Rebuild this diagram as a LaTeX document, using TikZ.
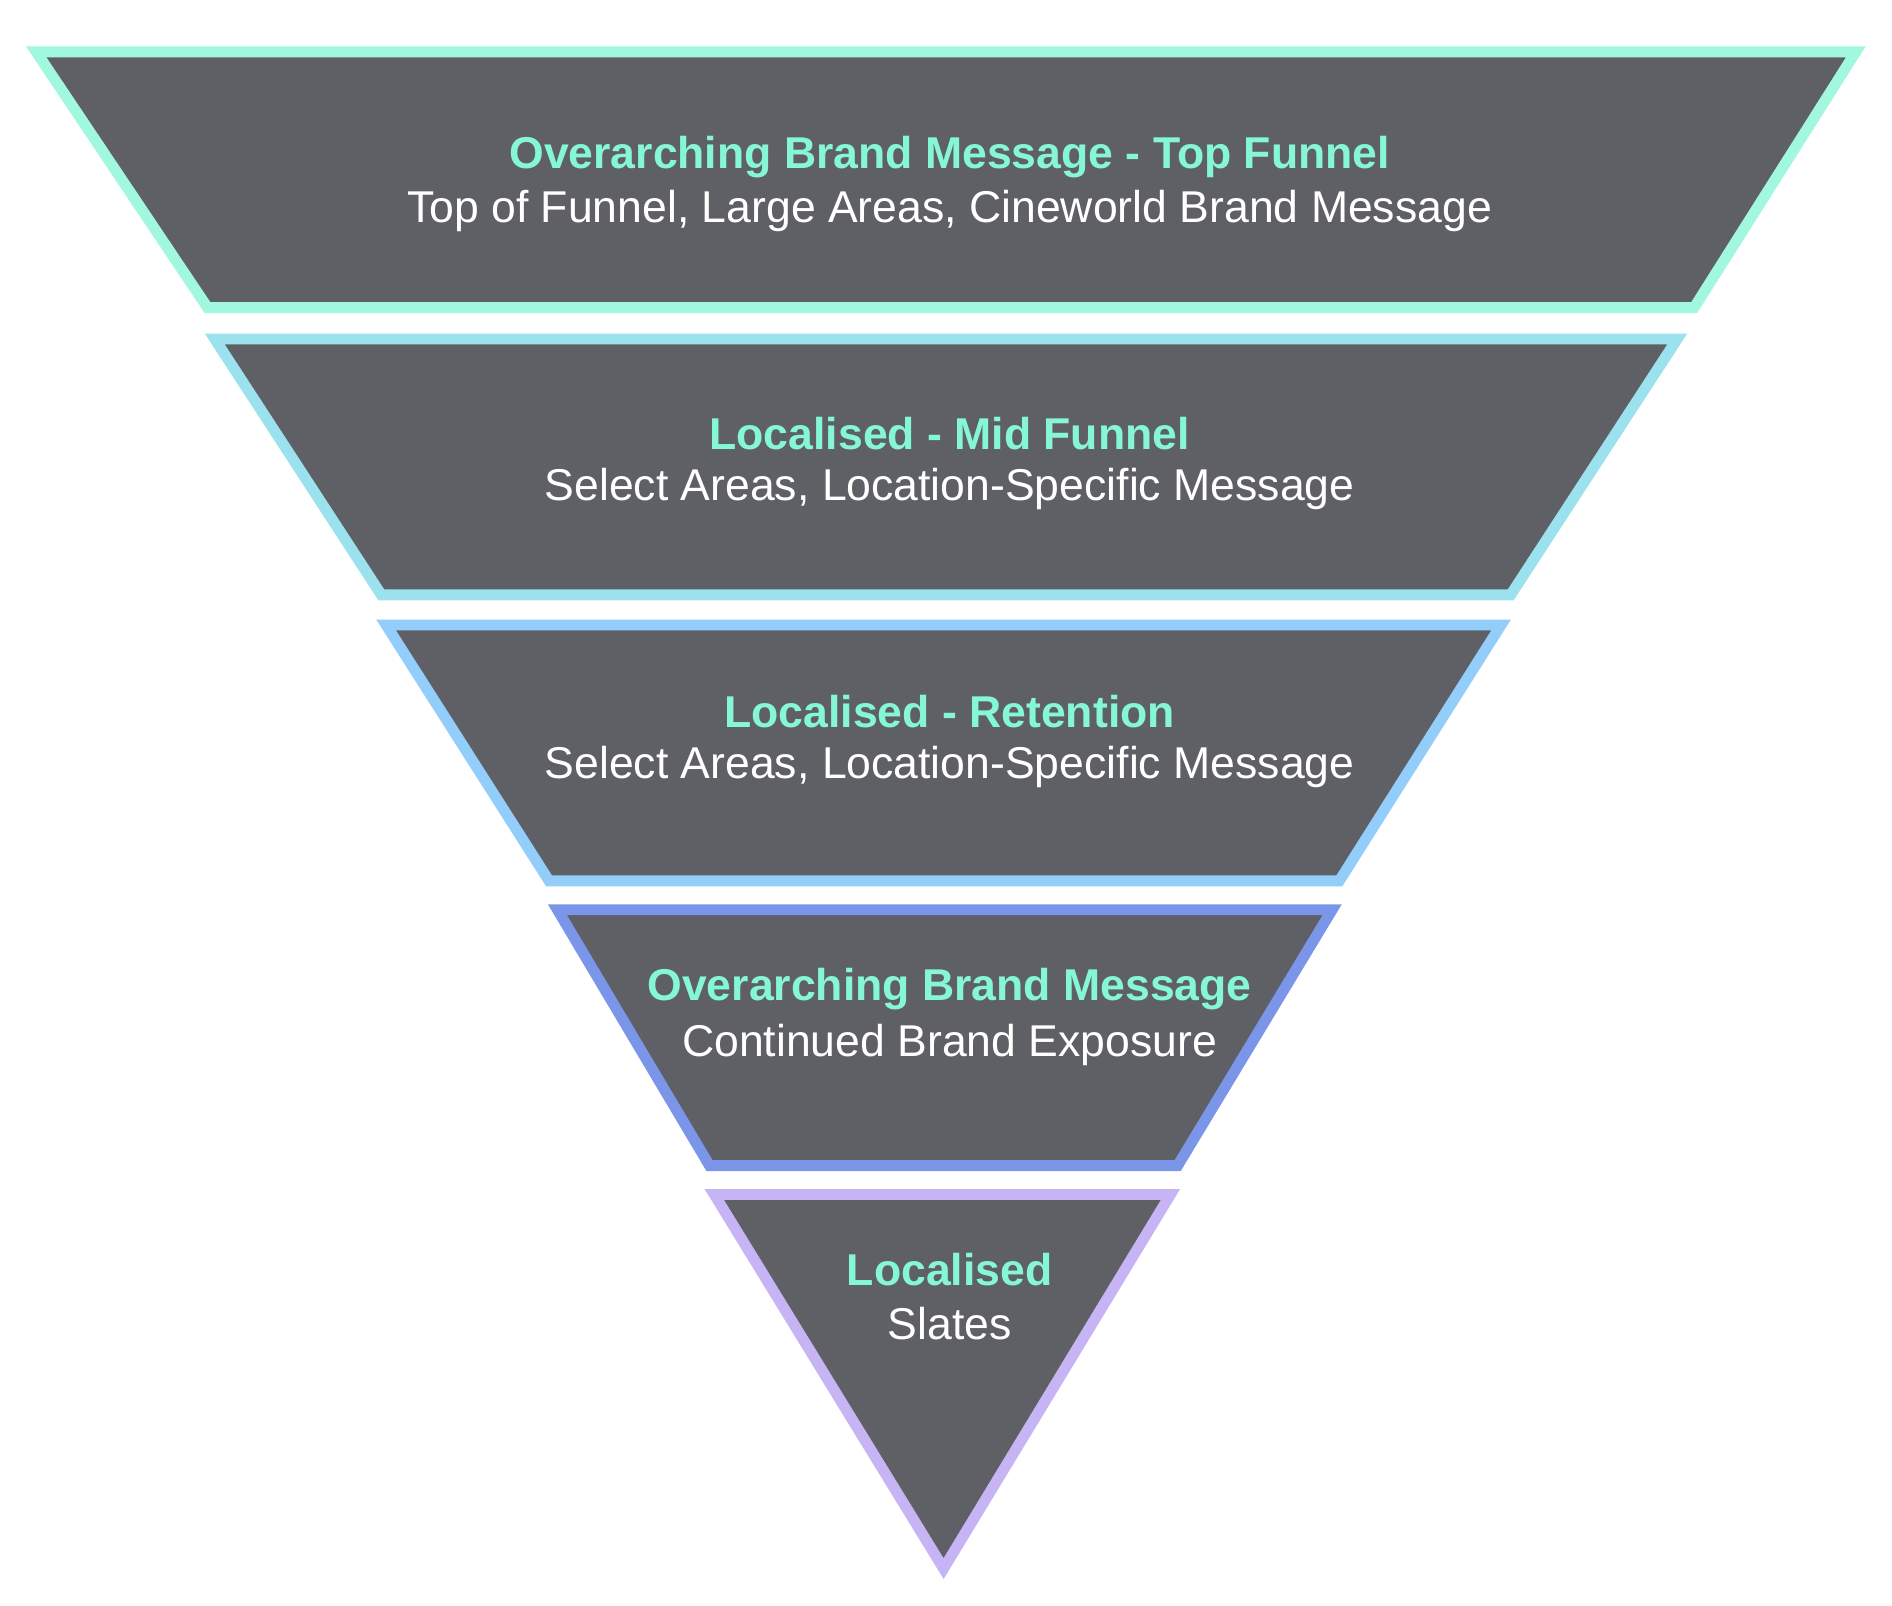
\documentclass[tikz,border=0pt]{standalone}
\usepackage{fontspec}
\setmainfont{Liberation Sans}
\begin{document}
\begin{tikzpicture}[x=0.01cm,y=-0.01cm,
  seg/.style={fill=segfill,line width=0.09cm,line join=miter},
  ttl/.style={text=titlec,font=\fontsize{10.5}{12}\selectfont\bfseries},
  sub/.style={text=white,font=\fontsize{10.5}{12}\selectfont}]
\definecolor{segfill}{HTML}{5F6066}
\definecolor{titlec}{HTML}{86F7D6}
\definecolor{c1}{HTML}{A2F7DF}
\definecolor{c2}{HTML}{9CE1EE}
\definecolor{c3}{HTML}{93CDF9}
\definecolor{c4}{HTML}{7B96E8}
\definecolor{c5}{HTML}{C6B4F5}
\useasboundingbox (0,0) rectangle (1568,1331);
\draw[seg,draw=c1] (30,43) -- (1538,43) -- (1404,255) -- (172,255) -- cycle;
\draw[seg,draw=c2] (178,281) -- (1390,281) -- (1252,493) -- (316,493) -- cycle;
\draw[seg,draw=c3] (320,518) -- (1244,518) -- (1110,730) -- (455,730) -- cycle;
\draw[seg,draw=c4] (462,754) -- (1104,754) -- (976,966) -- (588,966) -- cycle;
\draw[seg,draw=c5] (592,990) -- (970,990) -- (782,1300) -- cycle;
\node[ttl] (t1) at (787,130) {Overarching Brand Message - Top Funnel};
\node[sub] (s1) at (787,175) {Top of Funnel, Large Areas, Cineworld Brand Message};
\node[ttl] (t2) at (787,359) {Localised - Mid Funnel};
\node[sub] (s2) at (787,405) {Select Areas, Location-Specific Message};
\node[ttl] (t3) at (787,590) {Localised - Retention};
\node[sub] (s3) at (787,636) {Select Areas, Location-Specific Message};
\node[ttl] (t4) at (787,820) {Overarching Brand Message};
\node[sub] (s4) at (787,866) {Continued Brand Exposure};
\node[ttl] (t5) at (787,1052) {Localised};
\node[sub] (s5) at (787,1097) {Slates};
\end{tikzpicture}
\end{document}
